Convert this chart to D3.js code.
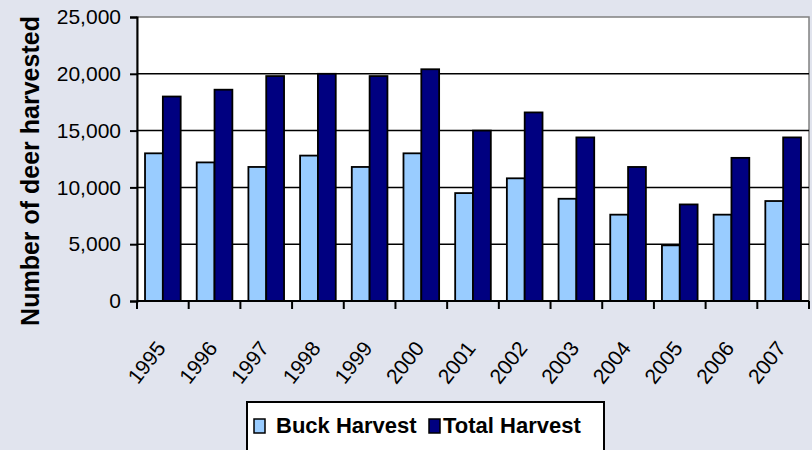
<!DOCTYPE html>
<meta charset="utf-8">
<head>
    <title>Deer harvest</title>
    <script src="https://cdn.jsdelivr.net/npm/d3@7"></script>
</head>

<style>
    body { margin: 0; background: #E1E4EE; }
    svg { display: block; font-family: Arial, "Liberation Sans", sans-serif; }
    .bar { stroke: #000; stroke-width: 1.8px; }
</style>

<svg></svg>

<script>
    var vWidth = 812;
    var vHeight = 450;

    // data
    var years = ['1995', '1996', '1997', '1998', '1999', '2000', '2001', '2002', '2003', '2004', '2005', '2006', '2007'];
    var buckHarvest = [13000, 12200, 11800, 12800, 11800, 13000, 9500, 10800, 9000, 7600, 4900, 7600, 8800];
    var totalHarvest = [18000, 18600, 19800, 20000, 19800, 20400, 15000, 16600, 14400, 11800, 8500, 12600, 14400];
    var seriesNames = ['Buck Harvest', 'Total Harvest'];
    var seriesColors = ['#99CCFF', '#000080'];
    var yTicks = [0, 5000, 10000, 15000, 20000, 25000];

    var plot = { left: 137, right: 809, top: 17, bottom: 301 };

    var svg = d3.select('svg').attr('width', vWidth).attr('height', vHeight);

    var x = d3.scaleBand().domain(years).range([plot.left, plot.right]);
    var xs = d3.scaleBand().domain([0, 1]).range([0, x.bandwidth()]).paddingInner(0).paddingOuter(0.45);
    var y = d3.scaleLinear().domain([0, 25000]).range([plot.bottom, plot.top]);

    // plot area
    svg.append('rect')
        .attr('x', plot.left).attr('y', plot.top)
        .attr('width', plot.right - plot.left).attr('height', plot.bottom - plot.top)
        .attr('fill', '#fff').attr('stroke', '#808080').attr('stroke-width', 1.5);

    // gridlines
    svg.append('g').selectAll('line').data(yTicks.slice(1, -1)).enter().append('line')
        .attr('x1', plot.left).attr('x2', plot.right)
        .attr('y1', function (d) { return y(d); }).attr('y2', function (d) { return y(d); })
        .attr('stroke', '#000').attr('stroke-width', 1.5);

    // bars
    var data = years.map(function (yr, i) { return { year: yr, vals: [buckHarvest[i], totalHarvest[i]] }; });
    var groups = svg.append('g').selectAll('g').data(data).enter().append('g')
        .attr('transform', function (d) { return 'translate(' + x(d.year) + ',0)'; });
    groups.selectAll('rect').data(function (d) { return d.vals; }).enter().append('rect')
        .attr('class', 'bar')
        .attr('x', function (d, i) { return xs(i); })
        .attr('width', xs.bandwidth())
        .attr('y', function (d) { return y(d); })
        .attr('height', function (d) { return y(0) - y(d); })
        .attr('fill', function (d, i) { return seriesColors[i]; });

    // y axis
    var yAxis = svg.append('g').attr('transform', 'translate(' + plot.left + ',0)')
        .call(d3.axisLeft(y).tickValues(yTicks).tickSize(7).tickPadding(9).tickFormat(d3.format(',')));
    yAxis.select('.domain').attr('stroke', '#000').attr('stroke-width', 2);
    yAxis.selectAll('.tick line').attr('stroke', '#000').attr('stroke-width', 2);
    yAxis.selectAll('.tick text').attr('fill', '#000').style('font-size', '21px')
        .attr('font-family', 'Arial, "Liberation Sans", sans-serif');

    // x axis: ticks between categories
    var xAxisG = svg.append('g');
    xAxisG.append('line')
        .attr('x1', plot.left).attr('x2', plot.right)
        .attr('y1', plot.bottom).attr('y2', plot.bottom)
        .attr('stroke', '#000').attr('stroke-width', 2);
    xAxisG.selectAll('line.tk').data(years.concat(['end'])).enter().append('line')
        .attr('class', 'tk')
        .attr('x1', function (d, i) { return i < years.length ? x(d) : plot.right; })
        .attr('x2', function (d, i) { return i < years.length ? x(d) : plot.right; })
        .attr('y1', plot.bottom).attr('y2', plot.bottom + 8)
        .attr('stroke', '#000').attr('stroke-width', 2);
    xAxisG.selectAll('text').data(years).enter().append('text')
        .attr('transform', function (d) {
            return 'translate(' + (x(d) + x.bandwidth() / 2 - 2) + ',' + (plot.bottom + 43) + ') rotate(-52)';
        })
        .attr('text-anchor', 'end')
        .attr('dy', '0.35em')
        .style('font-size', '21px')
        .text(function (d) { return d; });

    // y axis title
    svg.append('text')
        .attr('transform', 'translate(39,171) rotate(-90)')
        .attr('text-anchor', 'middle')
        .style('font-size', '25px').style('font-weight', 'bold')
        .text('Number of deer harvested');

    // legend
    var legend = svg.append('g');
    legend.append('rect')
        .attr('x', 247).attr('y', 402).attr('width', 357).attr('height', 60)
        .attr('fill', '#fff').attr('stroke', '#000').attr('stroke-width', 2);
    var legendX = [254, 429];
    var items = legend.selectAll('g.item').data(seriesNames).enter().append('g')
        .attr('transform', function (d, i) { return 'translate(' + legendX[i] + ',0)'; });
    items.append('rect')
        .attr('x', 0).attr('y', 419).attr('width', 11).attr('height', 14)
        .attr('fill', function (d, i) { return seriesColors[i]; })
        .attr('stroke', '#000').attr('stroke-width', 1.5);
    items.append('text')
        .attr('x', function (d, i) { return i === 0 ? 22 : 14; }).attr('y', 433)
        .style('font-size', '22px').style('font-weight', 'bold')
        .text(function (d) { return d; });
</script>
